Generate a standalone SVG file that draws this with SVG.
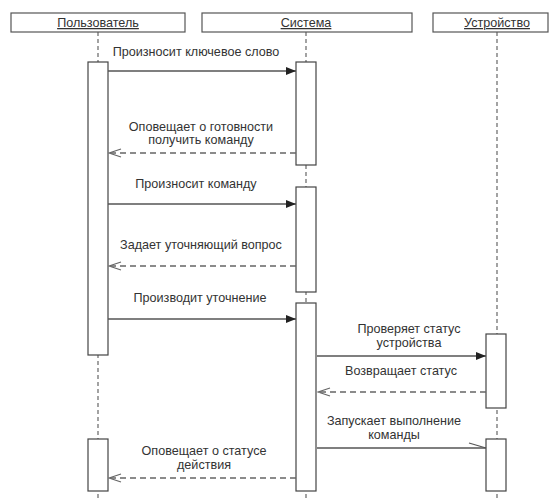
<svg xmlns="http://www.w3.org/2000/svg" width="549" height="498" viewBox="0 0 549 498">
<style>
.head{fill:#fff;stroke:#555;stroke-width:1.2}
.act{fill:#fff;stroke:#444;stroke-width:1.2}
.life{stroke:#666;stroke-width:1.2;stroke-dasharray:4,3;fill:none}
.msg{stroke:#555;stroke-width:1.3;fill:none}
.ret{stroke:#666;stroke-width:1.3;fill:none;stroke-dasharray:6,4}
text{font-family:"Liberation Sans",Arial,sans-serif;font-size:12.6px;fill:#333;text-anchor:middle}
.ht{text-decoration:underline}
</style>
<defs>
<marker id="fill" markerWidth="10" markerHeight="8" refX="10" refY="4" orient="auto" markerUnits="userSpaceOnUse">
<path d="M0,0 L10,4 L0,8 Z" fill="#222"/>
</marker>
<marker id="open" markerWidth="14" markerHeight="10" refX="13" refY="5" orient="auto" markerUnits="userSpaceOnUse">
<path d="M1,1 L13,5 L1,9" fill="none" stroke="#666" stroke-width="1.3"/>
</marker>
</defs>
<g id="lifelines">
<line class="life" x1="98" y1="32" x2="98" y2="498"/>
<line class="life" x1="306" y1="32" x2="306" y2="498"/>
<line class="life" x1="497" y1="32" x2="497" y2="498"/>
</g>
<g id="user">
<rect class="head" x="11" y="13" width="174" height="19"/>
<text class="ht" x="98" y="27">Пользователь</text>
<rect class="act" x="88" y="62" width="20" height="293"/>
<rect class="act" x="88" y="439" width="20" height="52"/>
</g>
<g id="system">
<rect class="head" x="202" y="13" width="210" height="19"/>
<text class="ht" x="306" y="27">Система</text>
<rect class="act" x="296" y="62" width="20" height="103"/>
<rect class="act" x="296" y="187" width="20" height="105"/>
<rect class="act" x="296" y="303" width="20" height="188"/>
</g>
<g id="device">
<rect class="head" x="433" y="13" width="115" height="19"/>
<text class="ht" x="497" y="27">Устройство</text>
<rect class="act" x="486" y="334" width="20" height="74"/>
<rect class="act" x="486" y="439" width="20" height="52"/>
</g>
<g id="connectors">
<line class="msg" x1="108" y1="71" x2="296" y2="71" marker-end="url(#fill)"/>
<text x="196" y="56">Произносит ключевое слово</text>
<line class="ret" x1="296" y1="153" x2="109" y2="153" marker-end="url(#open)"/>
<text x="201" y="131">Оповещает о готовности</text>
<text x="201" y="144">получить команду</text>
<line class="msg" x1="108" y1="204" x2="296" y2="204" marker-end="url(#fill)"/>
<text x="196" y="188">Произносит команду</text>
<line class="ret" x1="296" y1="266" x2="109" y2="266" marker-end="url(#open)"/>
<text x="201" y="249">Задает уточняющий вопрос</text>
<line class="msg" x1="108" y1="319" x2="296" y2="319" marker-end="url(#fill)"/>
<text x="200" y="302">Производит уточнение</text>
<line class="msg" x1="317" y1="356" x2="486" y2="356" marker-end="url(#fill)"/>
<text x="409" y="333">Проверяет статус</text>
<text x="409" y="347">устройства</text>
<line class="ret" x1="486" y1="392" x2="318" y2="392" marker-end="url(#open)"/>
<text x="401" y="375">Возвращает статус</text>
<line class="msg" x1="317" y1="448" x2="486" y2="448"/>
<line class="msg" x1="469" y1="443" x2="486" y2="448"/>
<text x="394" y="425">Запускает выполнение</text>
<text x="394" y="439">команды</text>
<line class="ret" x1="296" y1="478" x2="109" y2="478" marker-end="url(#open)"/>
<text x="204" y="455">Оповещает о статусе</text>
<text x="204" y="469">действия</text>
</g>
</svg>
